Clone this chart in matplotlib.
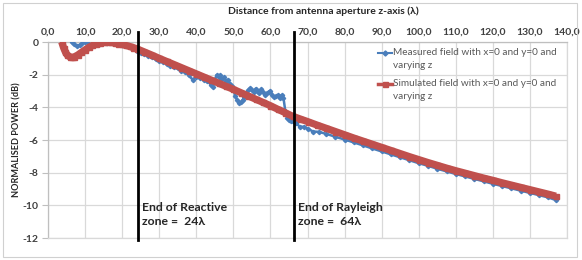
import matplotlib
matplotlib.use("Agg")
import matplotlib.pyplot as plt
from matplotlib.ticker import FuncFormatter
from matplotlib.patches import Rectangle
from matplotlib.lines import Line2D

plt.rcParams['font.family'] = ['Lato', 'DejaVu Sans']

# Simulated field (red)
sim_x = [3.7, 4.2, 4.7, 5.2, 5.8, 6.4, 7.0, 8.0, 9.0, 10.0, 11.0, 12.0, 13.0, 14.0,
         15.0, 16.0, 17.0, 18.0, 19.0, 20.0, 21.0, 22.0, 23.0, 24.0, 26.0, 28.0, 30.0,
         32.0, 34.0, 36.0, 38.0, 40.0, 42.0, 44.0, 46.0, 48.0, 50.0, 52.0, 54.0, 56.0,
         58.0, 60.0, 62.0, 64.0, 66.0, 68.0, 70.0, 72.5, 75.0, 77.5, 80.0, 82.5, 85.0,
         87.5, 90.0, 92.5, 95.0, 97.5, 100.0, 102.5, 105.0, 107.5, 110.0, 112.5, 115.0,
         117.5, 120.0, 122.5, 125.0, 127.5, 130.0, 132.5, 135.0, 137.0]
sim_y = [0.0, -0.35, -0.62, -0.80, -0.90, -0.94, -0.92, -0.80, -0.64, -0.48, -0.33, -0.21,
         -0.12, -0.06, -0.03, -0.02, -0.03, -0.06, -0.10, -0.15, -0.21, -0.27, -0.34, -0.42,
         -0.61, -0.80, -1.00, -1.19, -1.38, -1.57, -1.76, -1.95, -2.14, -2.33, -2.52, -2.71,
         -2.90, -3.10, -3.30, -3.50, -3.70, -3.90, -4.12, -4.33, -4.55, -4.71, -4.87, -5.08,
         -5.28, -5.48, -5.68, -5.88, -6.07, -6.26, -6.45, -6.64, -6.83, -7.02, -7.20, -7.38,
         -7.55, -7.72, -7.88, -8.03, -8.18, -8.33, -8.47, -8.62, -8.76, -8.90, -9.04, -9.18,
         -9.32, -9.44]

# Measured field (blue)
meas_x = [6.4, 7.0, 7.7, 8.5, 9.3, 10.0, 10.5, 12.0, 14.0, 16.0, 18.0, 20.0, 22.0, 24.0,
          25.0, 26.0, 27.0, 28.0, 29.0, 30.0, 31.0, 32.0, 33.0, 34.0, 35.0, 36.0, 37.0,
          38.0, 39.0, 40.0, 41.0, 42.0, 43.0, 44.0, 44.5, 45.0, 45.5, 46.0, 46.5, 47.0,
          47.5, 48.0, 48.5, 49.0, 49.5, 50.0, 50.5, 51.0, 51.5, 52.0, 52.5, 53.0, 53.5,
          54.0, 54.5, 55.0, 55.5, 56.0, 56.5, 57.0, 57.5, 58.0, 58.5, 59.0, 59.5, 60.0,
          60.5, 61.0, 61.5, 62.0, 62.5, 63.0, 63.5, 64.0, 64.5, 65.0, 65.5, 66.0, 67.0,
          68.0, 69.0, 70.0, 71.5, 73.0, 75.0, 77.5, 80.0, 82.5, 85.0, 87.5, 90.0, 92.5,
          95.0, 97.5, 100.0, 102.5, 105.0, 107.5, 110.0, 112.5, 115.0, 117.5, 120.0,
          122.5, 125.0, 127.5, 130.0, 132.5, 135.0, 137.0]
meas_y = [-0.02, -0.15, -0.27, -0.17, -0.07, 0.0, -0.03, -0.18, -0.10, -0.06, -0.09, -0.17,
          -0.32, -0.55, -0.70, -0.74, -0.88, -0.92, -1.05, -1.17, -1.24, -1.33, -1.45,
          -1.52, -1.62, -1.75, -1.85, -2.05, -2.30, -2.12, -2.22, -2.30, -2.40, -2.62,
          -2.73, -2.30, -2.02, -2.12, -2.05, -2.28, -2.15, -2.37, -2.30, -2.55, -2.72,
          -2.88, -3.30, -3.55, -3.75, -3.70, -3.55, -3.35, -3.20, -2.95, -2.83, -2.95,
          -3.05, -2.85, -3.00, -3.12, -2.90, -3.05, -3.22, -3.15, -3.05, -3.00, -3.22,
          -3.38, -3.30, -3.25, -3.45, -3.25, -3.40, -4.20, -4.65, -4.75, -4.85, -4.82,
          -4.98, -5.20, -5.18, -5.30, -5.48, -5.50, -5.62, -5.80, -5.97, -6.15, -6.33,
          -6.52, -6.70, -6.88, -7.06, -7.24, -7.42, -7.58, -7.76, -7.92, -8.08, -8.23,
          -8.38, -8.53, -8.68, -8.82, -8.96, -9.10, -9.24, -9.38, -9.52, -9.68]

x_ticks = [0, 10, 20, 30, 40, 50, 60, 70, 80, 90, 100, 110, 120, 130, 140]
y_ticks = [0, -2, -4, -6, -8, -10, -12]
zone_x = [24.3, 66.4]
zone_labels = ["End of Reactive\nzone =  24\u03bb", "End of Rayleigh\nzone =  64\u03bb"]
legend_labels = ["Measured field with x=0 and y=0 and\nvarying z",
                 "Simulated field with x=0 and y=0 and\nvarying z"]

blue = '#4A7EBB'
red = '#C0504D'
txt = '#404040'

W, H = 582, 260
fig = plt.figure(figsize=(W/100, H/100), dpi=100)
ax = fig.add_axes([48/W, 1-238/H, (567-48)/W, (238-42)/H])

ax.plot(meas_x, meas_y, color=blue, lw=1.8, marker='D', ms=2.2, zorder=3)
ax.plot(sim_x, sim_y, color=red, lw=5.2, marker='s', ms=3.6, zorder=4,
        solid_capstyle='butt')

ax.set_xlim(0, 140)
ax.set_ylim(-12, 0)
ax.set_xticks(x_ticks)
ax.set_yticks(y_ticks)
ax.xaxis.set_major_formatter(FuncFormatter(lambda v, p: f"{v:.1f}".replace('.', ',')))
ax.yaxis.set_major_formatter(FuncFormatter(lambda v, p: f"{int(v)}"))
ax.xaxis.tick_top()
ax.tick_params(axis='x', length=0, pad=4, labelsize=7.5, labelcolor=txt)
ax.tick_params(axis='y', length=4, width=0.8, color='#BFBFBF', pad=3,
               labelsize=7.5, labelcolor=txt)
for lab in ax.get_xticklabels() + ax.get_yticklabels():
    lab.set_fontweight('bold')

ax.grid(True, color='#D9D9D9', lw=0.9)
ax.set_axisbelow(True)
for s in ['right', 'bottom']:
    ax.spines[s].set_color('#D9D9D9')
    ax.spines[s].set_linewidth(0.9)
for s in ['left', 'top']:
    ax.spines[s].set_color('#BFBFBF')
    ax.spines[s].set_linewidth(0.9)

fig.text(323/W, 1-11/H, "Distance from antenna aperture z-axis (\u03bb)", fontsize=7.5,
         fontweight='bold', color='#262626', ha='center', va='center')
fig.text(17/W, 1-140/H, "NORMALISED POWER (dB)", fontsize=6.6, fontweight='bold',
         color='#262626', ha='center', va='center', rotation=90)

for zx, zl in zip(zone_x, zone_labels):
    ax.plot([zx, zx], [-12.1, 0.6], color='black', lw=2.0, clip_on=False, zorder=6)
    ax.text(zx + 1.0, -10.55, zl, fontsize=8.8, fontweight='bold', color='#262626',
            va='center', ha='left', linespacing=1.35, zorder=7)

# manual legend
leg_styles = [dict(color=blue, lw=1.5, marker='D', ms=2.6),
              dict(color=red, lw=2.5, marker='s', ms=3.6)]
leg_y = [53, 84]
for lbl, st, yy in zip(legend_labels, leg_styles, leg_y):
    fy = 1 - yy/H
    fig.add_artist(Line2D([378/W, 385/W, 392/W], [fy, fy, fy], transform=fig.transFigure,
                          markevery=[1], **st))
    fig.text(393/W, fy + 5/H, lbl, fontsize=7.2, color='#595959', ha='left', va='top',
             linespacing=1.55)

fig.patches.append(Rectangle((3/W, 3/H), 574/W, 254/H, transform=fig.transFigure,
                             fill=False, edgecolor='#D0D0D0', lw=0.8))

fig.savefig("out.png", dpi=100)
